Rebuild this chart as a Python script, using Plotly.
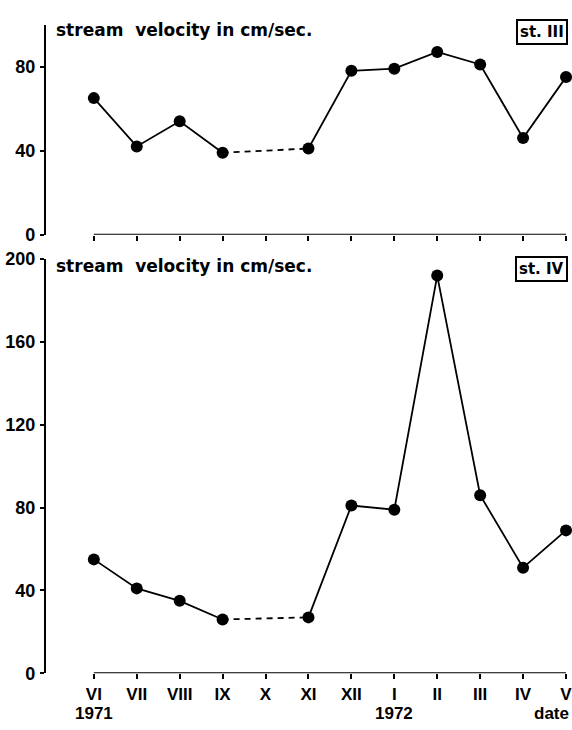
import plotly.graph_objects as go

# Monthly sampling, June 1971 - May 1972 (no sample in October)
months = ["VI", "VII", "VIII", "IX", "X", "XI", "XII", "I", "II", "III", "IV", "V"]
st3_velocity = [65, 42, 54, 39, None, 41, 78, 79, 87, 81, 46, 75]
st4_velocity = [55, 41, 35, 26, None, 27, 81, 79, 192, 86, 51, 69]
year_labels = {"VI": "1971", "I": "1972"}
axis_title = "date"
st3_ticks = [0, 40, 80]
st4_ticks = [0, 40, 80, 120, 160, 200]

W, H = 572, 730
TICK_FONT = "Liberation Sans"
LABEL_FONT = "DejaVu Sans"
x_idx = list(range(len(months)))
gap = months.index("X")


def py(pixel_from_top):
    """Convert a distance from the top edge into a paper fraction."""
    return 1 - pixel_from_top / H


fig = go.Figure()


def add_panel(values, xa, ya):
    # solid line through the sampled months
    fig.add_trace(go.Scatter(
        x=x_idx, y=values, mode="lines+markers", connectgaps=False,
        line=dict(color="black", width=1.8),
        marker=dict(color="black", size=12),
        xaxis=xa, yaxis=ya, cliponaxis=False, showlegend=False,
    ))
    # dashed bridge across the missing month
    fig.add_trace(go.Scatter(
        x=[gap - 1, gap + 1], y=[values[gap - 1], values[gap + 1]],
        mode="lines", line=dict(color="black", width=1.8, dash="6px,5px"),
        xaxis=xa, yaxis=ya, showlegend=False,
    ))


add_panel(st3_velocity, "x", "y")
add_panel(st4_velocity, "x2", "y2")

x_domain = [46 / W, 1]
x_range = [-(94 - 46) / 43, -(94 - 46) / 43 + 526 / 43]

tickfont = dict(family=TICK_FONT, size=18, color="black", weight="bold")
xcommon = dict(domain=x_domain, range=x_range, showgrid=False, zeroline=False,
               showline=False, ticks="outside", ticklen=5, tickwidth=1.6,
               tickcolor="black", tickvals=x_idx, ticklabeloverflow="allow")
ycommon = dict(showgrid=False, zeroline=False, showline=True, linecolor="black",
               linewidth=2, ticks="outside", ticklen=4, tickwidth=1.6,
               tickcolor="black", tickfont=tickfont, ticklabelstandoff=1)

fig.update_layout(
    width=W, height=H, margin=dict(l=0, r=0, t=0, b=0),
    paper_bgcolor="white", plot_bgcolor="white",
    xaxis=dict(**xcommon, anchor="y", showticklabels=False),
    yaxis=dict(**ycommon, anchor="x", domain=[py(231), py(15)],
               range=[0, 100], tickvals=st3_ticks),
    xaxis2=dict(**xcommon, anchor="y2", ticktext=months,
                tickfont=dict(family=TICK_FONT, size=17, color="black", weight="bold")),
    yaxis2=dict(**ycommon, anchor="x2", domain=[py(682), py(256)],
                range=[0, 200], tickvals=st4_ticks),
)

# x-axis baselines run from the first to the last month tick
for xr, yr in (("x", "y"), ("x2", "y2")):
    fig.add_shape(type="line", xref=xr, yref=yr, x0=x_idx[0], x1=x_idx[-1],
                  y0=0, y1=0, line=dict(color="black", width=2))

header = "stream\u00a0\u00a0velocity in cm/sec."
for head_y, box_y, label in ((21, 23, "st.\u00a0III"), (263, 266, "st.\u00a0IV")):
    fig.add_annotation(xref="paper", yref="paper", x=54 / W, y=py(head_y),
                       text=header, showarrow=False, xanchor="left",
                       yanchor="middle",
                       font=dict(family=LABEL_FONT, size=17, color="black",
                                 weight="bold"))
    fig.add_annotation(xref="paper", yref="paper", x=569 / W, y=py(box_y),
                       text=label, showarrow=False, xanchor="right",
                       yanchor="middle", bordercolor="black", borderwidth=2,
                       borderpad=2, bgcolor="white",
                       font=dict(family=LABEL_FONT, size=15, color="black",
                                 weight="bold"))

# second line of the date axis
for m, yr_text in year_labels.items():
    fig.add_annotation(xref="x2", yref="paper", x=months.index(m), y=py(723),
                       text=yr_text, showarrow=False, yanchor="middle",
                       font=dict(family=TICK_FONT, size=17, color="black",
                                 weight="bold"))
fig.add_annotation(xref="paper", yref="paper", x=1, y=py(723), text=axis_title,
                   showarrow=False, xanchor="right", yanchor="middle",
                   font=dict(family=TICK_FONT, size=17, color="black", weight="bold"))

fig.write_html("out.html")
